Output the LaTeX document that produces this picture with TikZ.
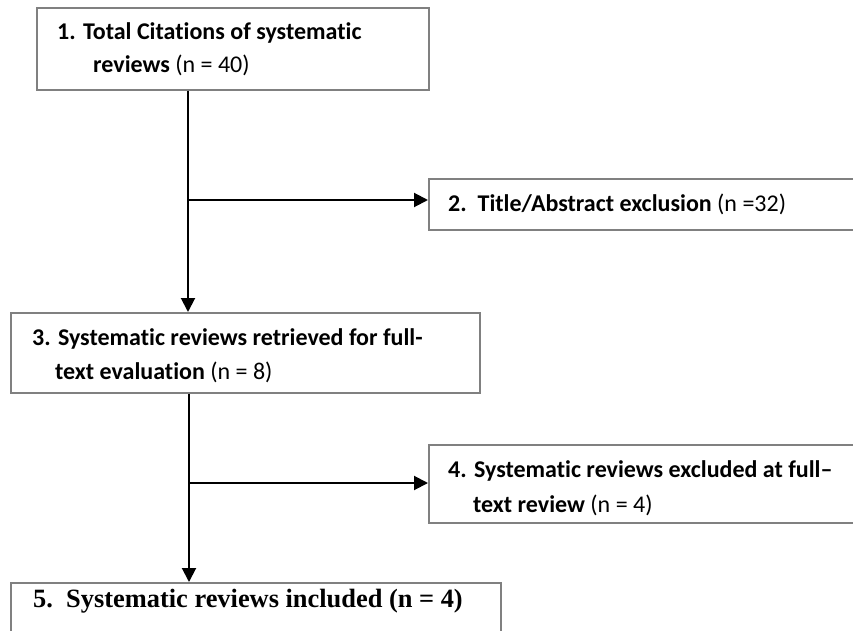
\documentclass[tikz,border=0pt]{standalone}
\usepackage{fontspec}
\setmainfont[Ligatures=NoCommon]{Carlito}
\newfontfamily\serifbox{Liberation Serif}
\usetikzlibrary{arrows.meta}
\definecolor{boxgray}{HTML}{808080}
\tikzset{
  flowbox/.style={draw=boxgray, line width=1.6pt, rectangle, inner sep=0pt, anchor=north west},
  linetext/.style={anchor=base west, inner sep=0pt, font=\fontsize{24}{28}\selectfont},
  arr/.style={line width=2pt, -{Triangle[length=14pt,width=14pt]}},
  plain/.style={line width=2pt}
}
\begin{document}
\begin{tikzpicture}[x=1pt,y=-1pt]
\useasboundingbox (0,0) rectangle (853,631);
\clip (0,0) rectangle (853,631);
% boxes
\node[flowbox, minimum width=392pt, minimum height=82pt] (b1) at (36,7) {};
\node[flowbox, minimum width=440pt, minimum height=51pt] (b2) at (428,178) {};
\node[flowbox, minimum width=469pt, minimum height=80pt] (b3) at (10,312) {};
\node[flowbox, minimum width=440pt, minimum height=78pt] (b4) at (428,444) {};
\node[flowbox, minimum width=490pt, minimum height=70pt] (b5) at (10,582) {};
% texts
\node[linetext] (t1a) at (57,40) {\textbf{1. Total Citations of systematic}};
\node[linetext] (t1b) at (93,73) {\textbf{reviews} (n = 40)};
\node[linetext] (t2) at (448,211) {\textbf{2.\ \ Title/Abstract exclusion} (n =32)};
\node[linetext] (t3a) at (32,345) {\textbf{3. Systematic reviews retrieved for full-}};
\node[linetext] (t3b) at (55,379) {\textbf{text evaluation} (n = 8)};
\node[linetext] (t4a) at (448,477) {\textbf{4. Systematic reviews excluded at full–}};
\node[linetext] (t4b) at (473,512) {\textbf{text review} (n = 4)};
\node[linetext, font=\serifbox\fontsize{26.4}{30}\selectfont] (t5) at (33,607) {\textbf{5.\ \ Systematic reviews included (n = 4)}};
% connectors
\coordinate (j1) at (188,200);
\coordinate (j2) at (189,483);
\draw[arr] (b1.south -| j1) -- (b3.north -| j1);
\draw[arr] (j1) -- (j1 -| b2.west);
\draw[arr] (b3.south -| j2) -- (b5.north -| j2);
\draw[arr] (j2) -- (j2 -| b4.west);
\end{tikzpicture}
\end{document}
